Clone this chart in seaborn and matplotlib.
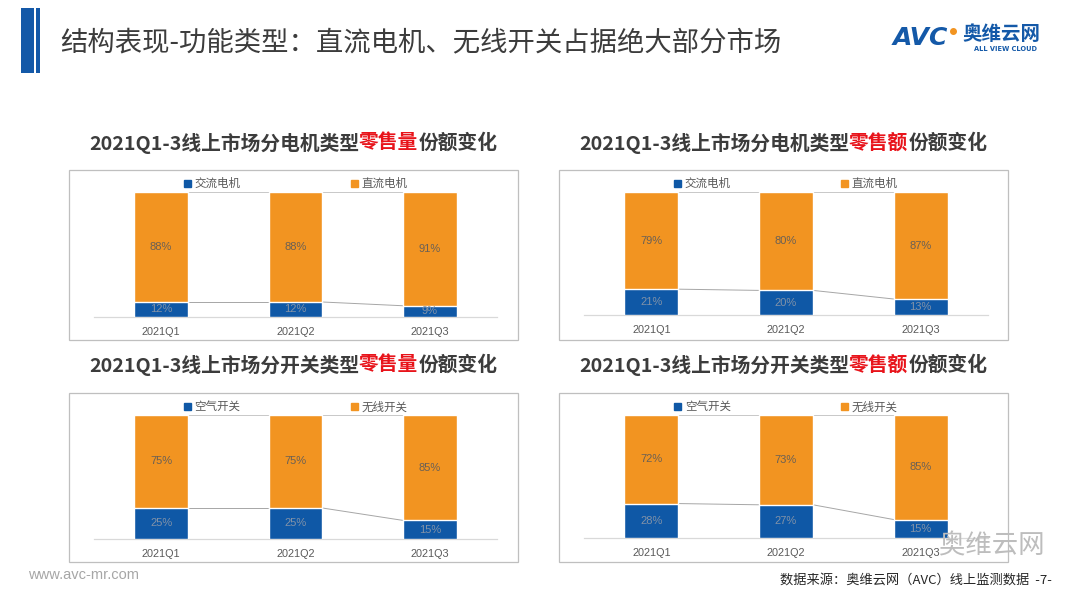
import matplotlib
matplotlib.use("Agg")
import matplotlib.pyplot as plt
import matplotlib.patches as mpatches
from matplotlib.lines import Line2D
import seaborn as sns
import pandas as pd

sns.set_theme(style="white")
plt.rcParams['font.family'] = ['Noto Sans CJK SC', 'DejaVu Sans']

# ---------------- data ----------------
quarters = ["2021Q1", "2021Q2", "2021Q3"]

motor_series = ["交流电机", "直流电机"]
motor_volume_ac = [12, 12, 9]
motor_volume_dc = [88, 88, 91]
motor_value_ac = [21, 20, 13]
motor_value_dc = [79, 80, 87]

switch_series = ["空气开关", "无线开关"]
switch_volume_air = [25, 25, 15]
switch_volume_wl = [75, 75, 85]
switch_value_air = [28, 27, 15]
switch_value_wl = [72, 73, 85]

main_title = "结构表现-功能类型：直流电机、无线开关占据绝大部分市场"
panel_titles = [
    ("2021Q1-3线上市场分电机类型", "零售量", "份额变化"),
    ("2021Q1-3线上市场分电机类型", "零售额", "份额变化"),
    ("2021Q1-3线上市场分开关类型", "零售量", "份额变化"),
    ("2021Q1-3线上市场分开关类型", "零售额", "份额变化"),
]
source_text = "数据来源：奥维云网（AVC）线上监测数据  -7-"
site_text = "www.avc-mr.com"

# ---------------- style ----------------
W, H = 1080, 606
BLUE = "#0F58A6"
ORANGE = "#F29421"
DARK = "#3C3C3C"
RED = "#E8141B"

fig = plt.figure(figsize=(W / 100, H / 100), dpi=100)
fig.patch.set_facecolor("white")


def fx(x):
    return x / W


def fy(y):
    return 1 - y / H


def rect_px(x0, y0, x1, y1, **kw):
    r = mpatches.Rectangle((fx(x0), fy(y1)), (x1 - x0) / W, (y1 - y0) / H,
                           transform=fig.transFigure, **kw)
    fig.add_artist(r)
    return r


# left accent stripes
rect_px(21, 8, 34, 73, color="#1459A8", lw=0)
rect_px(36, 8, 40, 73, color="#1459A8", lw=0)

fig.text(fx(60), fy(43), main_title, fontsize=19.7, color=DARK, va="center", ha="left")

# logo
fig.text(fx(893), fy(38), "AVC", fontsize=18, fontweight="bold", color="#1459A8",
         va="center", ha="left", family=["DejaVu Sans"], style="italic")
fig.add_artist(Line2D([fx(953)], [fy(31)], marker="o", ms=4, color=ORANGE,
                      transform=fig.transFigure))
fig.text(fx(962), fy(35), "奥维云网", fontsize=14, fontweight="bold", color="#1459A8",
         va="center", ha="left")
fig.text(fx(1006), fy(49), "ALL VIEW CLOUD", fontsize=4.8, fontweight="bold",
         color="#1459A8", va="center", ha="center", family=["DejaVu Sans"])

renderer = fig.canvas.get_renderer()


def rich_title(cx, cy, parts):
    texts = []
    for s, c in zip(parts, [DARK, RED, DARK]):
        t = fig.text(0, fy(cy), s, color=c, fontsize=14.2, fontweight="bold",
                     va="center", ha="left")
        texts.append(t)
    widths = [t.get_window_extent(renderer).width for t in texts]
    x = cx - sum(widths) / 2
    for t, w in zip(texts, widths):
        t.set_x(fx(x))
        x += w


boxes = [(69, 170, 518, 340), (559, 170, 1008, 340),
         (69, 393, 518, 562), (559, 393, 1008, 562)]
axes_px = [(94, 192, 497, 317), (584, 192, 988, 315),
           (94, 415, 497, 539), (584, 415, 988, 538)]
title_pos = [(293, 143), (783, 143), (293, 365), (783, 365)]
data_sets = [
    (motor_volume_ac, motor_volume_dc, motor_series),
    (motor_value_ac, motor_value_dc, motor_series),
    (switch_volume_air, switch_volume_wl, switch_series),
    (switch_value_air, switch_value_wl, switch_series),
]

for box, apx, tp, parts, (low, high, names) in zip(boxes, axes_px, title_pos,
                                                    panel_titles, data_sets):
    rect_px(*box, fill=False, ec="#BFBFBF", lw=0.9)
    rich_title(tp[0], tp[1], parts)

    x0, y0, x1, y1 = apx
    ax = fig.add_axes([fx(x0), fy(y1), (x1 - x0) / W, (y1 - y0) / H])
    ax.set_facecolor("none")

    df = pd.DataFrame({"quarter": quarters, "low": low,
                       "total": [a + b for a, b in zip(low, high)]})
    sns.barplot(data=df, x="quarter", y="total", color=ORANGE, width=0.4,
                saturation=1, ax=ax, zorder=2)
    sns.barplot(data=df, x="quarter", y="low", color=BLUE, width=0.4,
                saturation=1, ax=ax, zorder=3)

    # series lines between bars
    for i in range(len(quarters) - 1):
        ax.plot([i + 0.2, i + 0.8], [df["low"][i], df["low"][i + 1]],
                color="#A6A6A6", lw=0.7, zorder=1)
        ax.plot([i + 0.2, i + 0.8], [df["total"][i], df["total"][i + 1]],
                color="#C8C8C8", lw=0.7, zorder=1)

    for i in range(len(quarters)):
        ax.text(i, low[i] / 2, f"{low[i]}%", ha="center", va="center",
                fontsize=8, color="#8192A8", zorder=4, family=["Liberation Sans"])
        ax.text(i, low[i] + high[i] / 2, f"{high[i]}%", ha="center", va="center",
                fontsize=8, color="#6A6055", zorder=4, family=["Liberation Sans"])

    ax.set_xlim(-0.5, len(quarters) - 0.5)
    ax.set_ylim(0, 100)
    ax.set_xlabel("")
    ax.set_ylabel("")
    ax.set_yticks([])
    for s in ["top", "left", "right"]:
        ax.spines[s].set_visible(False)
    ax.spines["bottom"].set_color("#D9D9D9")
    ax.spines["bottom"].set_linewidth(0.9)
    ax.tick_params(axis="x", length=0, pad=7.5, labelsize=7.8, colors="#595959")
    for lbl in ax.get_xticklabels():
        lbl.set_family(["Liberation Sans"])

    handles = [mpatches.Patch(color=BLUE), mpatches.Patch(color=ORANGE)]
    leg = ax.legend(handles, names, loc="lower center", bbox_to_anchor=(0.5, 1.0),
                    ncol=2, frameon=False, fontsize=8.3, handlelength=0.6,
                    handleheight=0.6, handletextpad=0.3, columnspacing=9.6,
                    borderaxespad=0.05, borderpad=0.1)
    for t in leg.get_texts():
        t.set_color("#595959")

# footer
fig.text(fx(28), fy(575), site_text, fontsize=10.5, color="#A6A6A6", va="center",
         ha="left", family=["Liberation Sans"])
fig.text(fx(1052), fy(580), source_text, fontsize=9.5, color="#262626",
         va="center", ha="right")
fig.text(fx(1045), fy(546), "奥维云网", fontsize=19, color="#BDBDBD",
         va="center", ha="right")

fig.savefig("out.png", dpi=100, facecolor="white")
